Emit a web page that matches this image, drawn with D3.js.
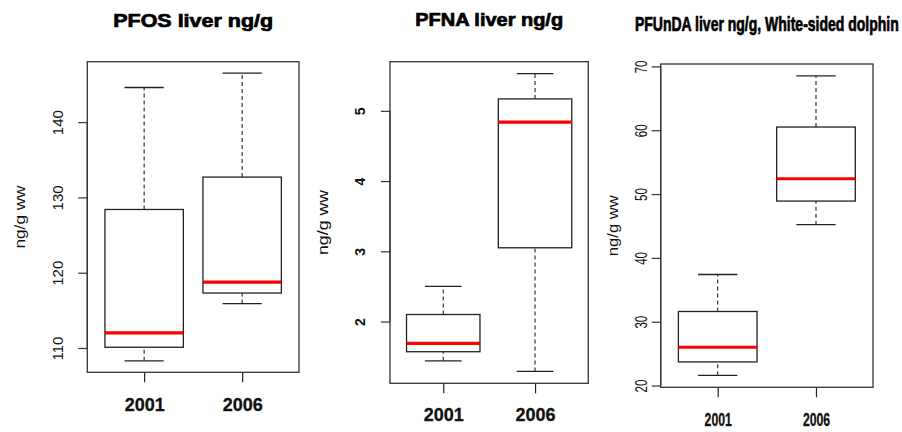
<!DOCTYPE html>
<html>
<head>
<meta charset="utf-8">
<script src="https://cdn.jsdelivr.net/npm/d3@7"></script>
<style>
  html, body { margin: 0; padding: 0; background: #fff; }
  svg { display: block; font-family: "Liberation Sans", Arial, sans-serif; }
</style>
</head>
<body>
<svg id="chart" width="902" height="432"></svg>
<script>
// Groups on the x axis
const years = ["2001", "2006"];

// Five-number summaries per year: [lower whisker, Q1, median, Q3, upper whisker]
const pfosStats   = [[108.3, 110.1, 112.0, 128.4, 144.6], [115.9, 117.3, 118.75, 132.7, 146.5]];
const pfnaStats   = [[1.44, 1.57, 1.69, 2.10, 2.50], [1.29, 3.05, 4.84, 5.17, 5.53]];
const pfundaStats = [[21.6, 23.7, 26.0, 31.6, 37.4], [45.2, 48.9, 52.4, 60.5, 68.5]];

// Axis tick values
const pfosTicks   = [110, 120, 130, 140];
const pfnaTicks   = [2, 3, 4, 5];
const pfundaTicks = [20, 30, 40, 50, 60, 70];

// Panel titles and axis label
const titles = ["PFOS liver ng/g", "PFNA liver ng/g", "PFUnDA liver ng/g, White-sided dolphin"];
const yLabel = "ng/g ww";

// Panel layout (frame box in px, label placement and text styling)
const panels = [
  { stats: pfosStats, ticks: pfosTicks, title: titles[0],
    frame: { x0: 87.3, x1: 299, y0: 61.7, y1: 372.3 },
    titleY: 27, titleSize: 18, titleW: 160,
    tickOff: 24, tickSize: 15, tickWeight: "normal", tickScale: 1,
    ylabOff: 62, ylabW: 63,
    xlabOff: 39, xlabSize: 18, xlabScale: 1 },
  { stats: pfnaStats, ticks: pfnaTicks, title: titles[1],
    frame: { x0: 390, x1: 588.3, y0: 61.7, y1: 383.3 },
    titleY: 25.5, titleSize: 18, titleW: 148,
    tickOff: 25, tickSize: 14, tickWeight: "bold", tickScale: 1,
    ylabOff: 62, ylabW: 65,
    xlabOff: 38, xlabSize: 18, xlabScale: 1 },
  { stats: pfundaStats, ticks: pfundaTicks, title: titles[2],
    frame: { x0: 660.7, x1: 873, y0: 64, y1: 387.3 },
    titleY: 31, titleSize: 20, titleW: 264,
    tickOff: 14, tickSize: 16, tickWeight: "normal", tickScale: 0.72,
    ylabOff: 43, ylabW: 61,
    xlabOff: 38.5, xlabSize: 18, xlabScale: 0.68 }
];

const svg = d3.select("#chart");
const lineColor = "#222";

// Places a text at (x, y) and squeezes it horizontally to the given width
function fitText(sel, x, y, width, rotate) {
  const node = sel.node();
  const natural = node.getComputedTextLength();
  const k = width / natural;
  sel.attr("transform", `translate(${x},${y})${rotate ? " rotate(-90)" : ""} scale(${k},1)`);
}

panels.forEach(p => {
  const f = p.frame;
  const g = svg.append("g");

  // R-style limits: x spans 0.5..2.5 padded by 4%, y spans data range padded by 4%
  const xs = d3.scaleLinear().domain([0.42, 2.58]).range([f.x0, f.x1]);
  const lo = d3.min(p.stats, d => d[0]);
  const hi = d3.max(p.stats, d => d[4]);
  const pad = (hi - lo) * 0.04;
  const ys = d3.scaleLinear().domain([lo - pad, hi + pad]).range([f.y1, f.y0]);

  // Title
  const t = g.append("text")
    .attr("text-anchor", "middle")
    .attr("font-weight", "bold")
    .attr("font-size", p.titleSize)
    .attr("fill", "#000")
    .attr("stroke", "#000")
    .attr("stroke-width", 0.7)
    .text(p.title);
  fitText(t, (f.x0 + f.x1) / 2, p.titleY, p.titleW, false);

  // Boxes
  const boxW = 0.8, stapleW = 0.4;
  p.stats.forEach((s, i) => {
    const c = i + 1;
    const bx = g.append("g");
    // dashed whiskers
    bx.append("line")
      .attr("x1", xs(c)).attr("x2", xs(c))
      .attr("y1", ys(s[3])).attr("y2", ys(s[4]))
      .attr("stroke", lineColor).attr("stroke-width", 1.1).attr("stroke-dasharray", "4,3");
    bx.append("line")
      .attr("x1", xs(c)).attr("x2", xs(c))
      .attr("y1", ys(s[0])).attr("y2", ys(s[1]))
      .attr("stroke", lineColor).attr("stroke-width", 1.1).attr("stroke-dasharray", "4,3");
    // staples
    [s[0], s[4]].forEach(v => {
      bx.append("line")
        .attr("x1", xs(c - stapleW / 2)).attr("x2", xs(c + stapleW / 2))
        .attr("y1", ys(v)).attr("y2", ys(v))
        .attr("stroke", lineColor).attr("stroke-width", 1.3);
    });
    // box
    bx.append("rect")
      .attr("x", xs(c - boxW / 2))
      .attr("y", ys(s[3]))
      .attr("width", xs(c + boxW / 2) - xs(c - boxW / 2))
      .attr("height", ys(s[1]) - ys(s[3]))
      .attr("fill", "none").attr("stroke", lineColor).attr("stroke-width", 1.3);
    // median
    bx.append("line")
      .attr("x1", xs(c - boxW / 2)).attr("x2", xs(c + boxW / 2))
      .attr("y1", ys(s[2])).attr("y2", ys(s[2]))
      .attr("stroke", "#ff0000").attr("stroke-width", 3.2);
  });

  // Frame
  g.append("rect")
    .attr("x", f.x0).attr("y", f.y0)
    .attr("width", f.x1 - f.x0).attr("height", f.y1 - f.y0)
    .attr("fill", "none").attr("stroke", "#333").attr("stroke-width", 1.3);

  // Y axis: ticks and rotated labels
  const yAxis = g.append("g")
    .attr("transform", `translate(${f.x0},0)`)
    .call(d3.axisLeft(ys).tickValues(p.ticks).tickSize(9).tickFormat(d3.format("d")));
  yAxis.select(".domain")
    .attr("d", `M0,${ys(p.ticks[0])}V${ys(p.ticks[p.ticks.length - 1])}`)
    .attr("stroke", "#333").attr("stroke-width", 1.2);
  yAxis.selectAll(".tick line").attr("stroke", "#333").attr("stroke-width", 1.2);
  yAxis.selectAll(".tick text")
    .attr("x", null).attr("dy", null)
    .attr("transform", `translate(${-p.tickOff},0) rotate(-90) scale(${p.tickScale},1)`)
    .attr("text-anchor", "middle")
    .attr("font-family", "Liberation Sans, Arial, sans-serif")
    .attr("font-size", p.tickSize)
    .attr("font-weight", p.tickWeight)
    .attr("fill", "#111");

  // Y axis title
  const yl = g.append("text")
    .attr("text-anchor", "middle")
    .attr("font-size", 15)
    .attr("fill", "#111")
    .text(yLabel);
  fitText(yl, f.x0 - p.ylabOff, (f.y0 + f.y1) / 2, p.ylabW, true);

  // X axis: ticks and bold year labels
  const xAxis = g.append("g")
    .attr("transform", `translate(0,${f.y1})`)
    .call(d3.axisBottom(xs).tickValues([1, 2]).tickSize(10).tickFormat(d => years[d - 1]));
  xAxis.select(".domain").remove();
  xAxis.selectAll(".tick line").attr("stroke", "#222").attr("stroke-width", 1.2);
  xAxis.selectAll(".tick text")
    .attr("y", null).attr("dy", null)
    .attr("transform", `translate(0,${p.xlabOff}) scale(${p.xlabScale},1)`)
    .attr("font-family", "Liberation Sans, Arial, sans-serif")
    .attr("font-size", p.xlabSize)
    .attr("font-weight", "bold")
    .attr("fill", "#111")
    .attr("stroke", "#111")
    .attr("stroke-width", 0.3);
});
</script>
</body>
</html>
